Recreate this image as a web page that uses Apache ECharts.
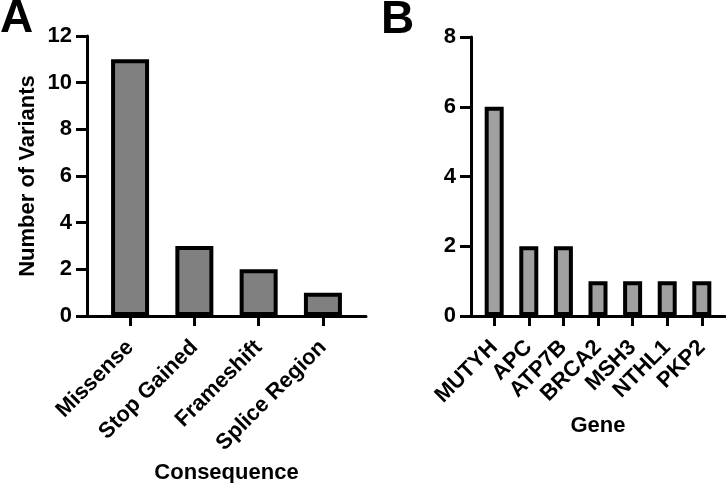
<!DOCTYPE html>
<html>
<head>
<meta charset="utf-8">
<script src="https://cdn.jsdelivr.net/npm/echarts@6/dist/echarts.min.js"></script>
<style>html,body{margin:0;padding:0;background:#fff;}#c{width:726px;height:483px;}</style>
</head>
<body>
<div id="c"></div>
<script>
const consequenceCategories = ['Missense', 'Stop Gained', 'Frameshift', 'Splice Region'];
const consequenceCounts = [11, 3, 2, 1];
const geneCategories = ['MUTYH', 'APC', 'ATP7B', 'BRCA2', 'MSH3', 'NTHL1', 'PKP2'];
const geneCounts = [6, 2, 2, 1, 1, 1, 1];
const yTicksA = [0, 2, 4, 6, 8, 10, 12];
const yTicksB = [0, 2, 4, 6, 8];

const FONT = 'Liberation Sans, Arial, sans-serif';
const chart = echarts.init(document.getElementById('c'), null, {renderer: 'canvas'});

function idx(arr) { return arr.map((_, i) => i); }

function xAxisDef(gridIndex, cats, name, nameGap) {
  return {
    type: 'value', gridIndex: gridIndex,
    min: -0.67, max: cats.length - 1 + 0.67,
    name: name, nameLocation: 'middle', nameGap: nameGap,
    nameTextStyle: {fontFamily: FONT, fontWeight: 'bold', fontSize: 22, color: '#000'},
    axisLine: {show: true, onZero: false, lineStyle: {color: '#000', width: 3}},
    axisTick: {show: true, customValues: idx(cats), length: 10, lineStyle: {color: '#000', width: 3}},
    axisLabel: {
      customValues: idx(cats), rotate: 45, margin: 28,
      fontFamily: FONT, fontWeight: 'bold', fontSize: 22, color: '#000',
      formatter: v => cats[Math.round(v)]
    },
    splitLine: {show: false}
  };
}

function yAxisDef(gridIndex, ticks, name) {
  const o = {
    type: 'value', gridIndex: gridIndex,
    min: ticks[0], max: ticks[ticks.length - 1], interval: ticks[1] - ticks[0],
    axisLine: {show: true, onZero: false, lineStyle: {color: '#000', width: 3}},
    axisTick: {show: true, inside: false, length: 11, lineStyle: {color: '#000', width: 3}},
    axisLabel: {margin: 15, fontFamily: FONT, fontWeight: 'bold', fontSize: 22, color: '#000'},
    splitLine: {show: false}
  };
  if (name) {
    o.name = name; o.nameLocation = 'middle'; o.nameGap = 48;
    o.nameTextStyle = {fontFamily: FONT, fontWeight: 'bold', fontSize: 22, color: '#000'};
  }
  return o;
}

chart.setOption({
  animation: false,
  backgroundColor: '#fff',
  title: [
    {text: 'A', left: -5, top: -9, textStyle: {fontFamily: FONT, fontWeight: 'bold', fontSize: 46, color: '#000'}},
    {text: 'B', left: 376, top: -8, textStyle: {fontFamily: FONT, fontWeight: 'bold', fontSize: 46, color: '#000'}}
  ],
  grid: [
    {left: 87, right: 360, top: 36, bottom: 167, outerBoundsMode: 'none', containLabel: false},
    {left: 471, right: 1, top: 37, bottom: 167, outerBoundsMode: 'none', containLabel: false}
  ],
  xAxis: [
    xAxisDef(0, consequenceCategories, 'Consequence', 145),
    xAxisDef(1, geneCategories, 'Gene', 99)
  ],
  yAxis: [
    yAxisDef(0, yTicksA, 'Number of Variants'),
    yAxisDef(1, yTicksB, null)
  ],
  series: [
    {
      type: 'bar', xAxisIndex: 0, yAxisIndex: 0, barWidth: 38,
      data: consequenceCounts.map((v, i) => [i, v]),
      itemStyle: {color: '#808080', borderColor: '#000', borderWidth: 4}
    },
    {
      type: 'bar', xAxisIndex: 1, yAxisIndex: 1, barWidth: 19,
      data: geneCounts.map((v, i) => [i, v]),
      itemStyle: {color: '#a0a0a0', borderColor: '#000', borderWidth: 4}
    }
  ]
});
</script>
</body>
</html>
